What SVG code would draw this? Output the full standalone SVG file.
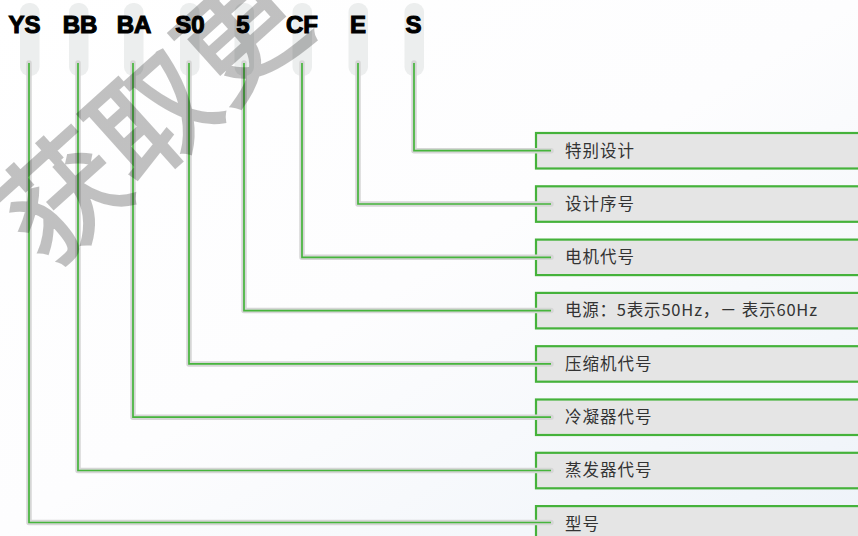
<svg xmlns="http://www.w3.org/2000/svg" width="858" height="536" viewBox="0 0 858 536">
<defs>
<linearGradient id="bg" x1="0" y1="0" x2="1" y2="1">
<stop offset="0" stop-color="#ffffff"/>
<stop offset="0.5" stop-color="#fdfdfe"/>
<stop offset="1" stop-color="#eef3f9"/>
</linearGradient>
<style>
.pill{fill:#eceeee}
.code{font-family:"Liberation Sans",Arial,sans-serif;font-weight:bold;font-size:24px;fill:#000;stroke:#000;stroke-width:1.1;text-anchor:middle}
.box{fill:#e5e5e5;stroke:#45b23b;stroke-width:2.2}
.lbl{font-family:"Noto Sans CJK SC","Noto Sans",sans-serif;font-size:16.5px;fill:#333;letter-spacing:1px}
.halo{fill:none;stroke:#d6d6d6;stroke-width:5.5;stroke-linecap:round;stroke-linejoin:round}
.wire{fill:none;stroke:#46b53c;stroke-width:1.7}
.wm{font-family:"Noto Sans CJK SC",sans-serif;font-size:120px;fill:#000;stroke:#000;stroke-width:3}
</style>
</defs>
<rect width="858" height="536" fill="url(#bg)"/>

<g id="codes">
<rect class="pill" x="20" y="3" width="19.5" height="73" rx="9"/>
<rect class="pill" x="69" y="3" width="19.5" height="73" rx="9"/>
<rect class="pill" x="124" y="3" width="19.5" height="73" rx="9"/>
<rect class="pill" x="180" y="3" width="19.5" height="73" rx="9"/>
<rect class="pill" x="234.5" y="3" width="19.5" height="73" rx="9"/>
<rect class="pill" x="292.5" y="3" width="19.5" height="73" rx="9"/>
<rect class="pill" x="348.5" y="3" width="19.5" height="73" rx="9"/>
<rect class="pill" x="404.5" y="3" width="19.5" height="73" rx="9"/>
<text class="code" x="24.5" y="33">YS</text>
<text class="code" x="80" y="33">BB</text>
<text class="code" x="134" y="33">BA</text>
<text class="code" x="190" y="33">S0</text>
<text class="code" x="243" y="33">5</text>
<text class="code" x="302" y="33">CF</text>
<text class="code" x="358" y="33">E</text>
<text class="code" x="413.5" y="33">S</text>
</g>

<g id="n1"><rect class="box" x="536" y="133" width="340" height="35.5"/><text class="lbl" x="565" y="156.5">特别设计</text></g>
<g id="n2"><rect class="box" x="536" y="186.3" width="340" height="35.5"/><text class="lbl" x="565" y="209.8">设计序号</text></g>
<g id="n3"><rect class="box" x="536" y="239.6" width="340" height="35.5"/><text class="lbl" x="565" y="263.1">电机代号</text></g>
<g id="n4"><rect class="box" x="536" y="292.9" width="340" height="35.5"/><text class="lbl" x="565" y="316.4" textLength="253" lengthAdjust="spacing">电源：5表示50Hz，－ 表示60Hz</text></g>
<g id="n5"><rect class="box" x="536" y="346.2" width="340" height="35.5"/><text class="lbl" x="565" y="369.7">压缩机代号</text></g>
<g id="n6"><rect class="box" x="536" y="399.5" width="340" height="35.5"/><text class="lbl" x="565" y="423">冷凝器代号</text></g>
<g id="n7"><rect class="box" x="536" y="452.8" width="340" height="35.5"/><text class="lbl" x="565" y="476.3">蒸发器代号</text></g>
<g id="n8"><rect class="box" x="536" y="506.1" width="340" height="35.5"/><text class="lbl" x="565" y="529.6">型号</text></g>

<g id="connectors">
<path class="halo" d="M414 63V150.7H551"/>
<path class="halo" d="M358 63V204H551"/>
<path class="halo" d="M302 63V257.3H551"/>
<path class="halo" d="M244 63V310.6H551"/>
<path class="halo" d="M189 63V363.9H551"/>
<path class="halo" d="M133 63V417.2H551"/>
<path class="halo" d="M78 63V470.5H551"/>
<path class="halo" d="M29 63V522.5H551"/>
<path class="wire" d="M414 63V150.7H551"/>
<path class="wire" d="M358 63V204H551"/>
<path class="wire" d="M302 63V257.3H551"/>
<path class="wire" d="M244 63V310.6H551"/>
<path class="wire" d="M189 63V363.9H551"/>
<path class="wire" d="M133 63V417.2H551"/>
<path class="wire" d="M78 63V470.5H551"/>
<path class="wire" d="M29 63V522.5H551"/>
</g>

<g opacity="0.24"><text class="wm" transform="translate(48 269) rotate(-42)">获取更</text></g>
</svg>
